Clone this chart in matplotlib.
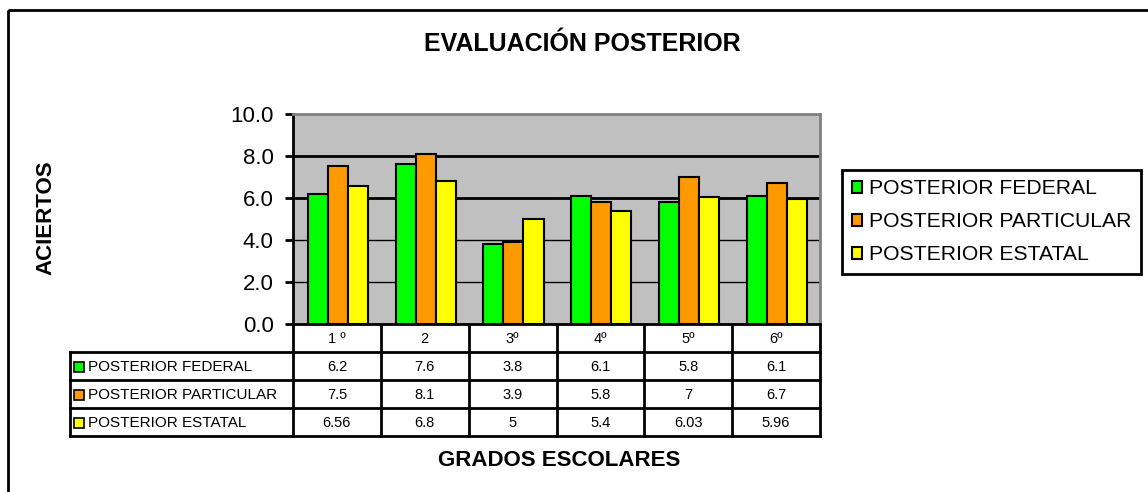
import numpy as np
import matplotlib.pyplot as plt
from matplotlib.patches import Rectangle

plt.rcParams['font.family'] = ['Liberation Sans', 'DejaVu Sans']

grados = ['1 º', '2', '3º', '4º', '5º', '6º']
series = ['POSTERIOR FEDERAL', 'POSTERIOR PARTICULAR', 'POSTERIOR ESTATAL']
federal = [6.2, 7.6, 3.8, 6.1, 5.8, 6.1]
particular = [7.5, 8.1, 3.9, 5.8, 7, 6.7]
estatal = [6.56, 6.8, 5, 5.4, 6.03, 5.96]
colores = ['#00FF00', '#FF9900', '#FFFF00']

W, H = 1148, 492
# plot area in pixels
left, right, top, bottom = 293, 820, 114, 324
row_h = 28
lab_left = 70

fig = plt.figure(figsize=(W / 100, H / 100), dpi=100)

ax = fig.add_axes([left / W, 1 - bottom / H, (right - left) / W, (bottom - top) / H])
ax.set_facecolor('#C0C0C0')

x = np.arange(len(grados))
w = 0.228
valores = [federal, particular, estatal]
bars = []
for i, vals in enumerate(valores):
    b = ax.bar(x + (i - 1) * w + 0.01, vals, w, color=colores[i], edgecolor='black',
               linewidth=1.5, label=series[i], zorder=3)
    bars.append(b)

ax.set_xlim(-0.5, len(grados) - 0.5)
ax.set_ylim(0, 10)
ax.set_yticks(np.arange(0, 10.1, 2))
ax.set_yticklabels(['%.1f' % v for v in np.arange(0, 10.1, 2)], fontsize=16)
ax.set_xticks([])
ax.tick_params(axis='y', length=6, width=2, pad=8)
ax.yaxis.grid(True, color='black', zorder=1)
for gl, lw in zip(ax.get_ygridlines(), [1, 1, 1, 2, 2, 0]):
    gl.set_linewidth(lw)
ax.set_axisbelow(True)
ax.spines['left'].set_linewidth(2)
ax.spines['bottom'].set_linewidth(2)
for s in ['top', 'right']:
    ax.spines[s].set_color('#808080')
    ax.spines[s].set_linewidth(2)

# overlay in pixel coordinates for frame, titles and data table
tax = fig.add_axes([0, 0, 1, 1], zorder=-1)
tax.set_xlim(0, W)
tax.set_ylim(H, 0)
tax.axis('off')

tax.add_patch(Rectangle((8, 10), 1200, 600, fill=False, lw=2, ec='black'))
tax.text(582, 44, 'EVALUACIÓN POSTERIOR', ha='center', va='center',
         fontsize=18, fontweight='bold')
tax.text(46, 218, 'ACIERTOS', rotation=90, ha='center', va='center',
         fontsize=16, fontweight='bold')
tax.text(559, 460, 'GRADOS ESCOLARES', ha='center', va='center',
         fontsize=16, fontweight='bold')

# data table under the chart
col_w = (right - left) / len(grados)
n_rows = len(series)
t_bot = bottom + row_h * (n_rows + 1)
lk = dict(color='black', lw=2, solid_capstyle='projecting')
tax.plot([left, left], [bottom, t_bot], **lk)
tax.plot([right, right], [bottom, t_bot], **lk)
for c in range(1, len(grados)):
    tax.plot([left + c * col_w] * 2, [bottom, t_bot], **lk)
for r in range(1, n_rows + 2):
    tax.plot([lab_left, right], [bottom + r * row_h] * 2, **lk)
tax.plot([lab_left, lab_left], [bottom + row_h, t_bot], **lk)
for c, g in enumerate(grados):
    tax.text(left + (c + 0.5) * col_w, bottom + row_h / 2 + 1, g,
             ha='center', va='center', fontsize=10.5)
for r, (nombre, vals) in enumerate(zip(series, valores)):
    yc = bottom + (r + 1.5) * row_h + 1
    tax.add_patch(Rectangle((74, yc - 5), 10, 10, fc=colores[r], ec='black', lw=1.2))
    tax.text(88, yc, nombre, ha='left', va='center', fontsize=11)
    for c, v in enumerate(vals):
        tax.text(left + (c + 0.5) * col_w, yc, str(v), ha='center', va='center',
                 fontsize=10.5)

leg = fig.legend(handles=bars, labels=series, loc='upper left',
                 bbox_to_anchor=(842 / W, 1 - 170 / H), borderaxespad=0,
                 fontsize=15.2, fancybox=False, edgecolor='black',
                 handlelength=0.5, handleheight=0.5, handletextpad=0.33,
                 labelspacing=0.66, borderpad=0.45, framealpha=1)
leg.get_frame().set_linewidth(2)

fig.savefig('out.png', dpi=100)
